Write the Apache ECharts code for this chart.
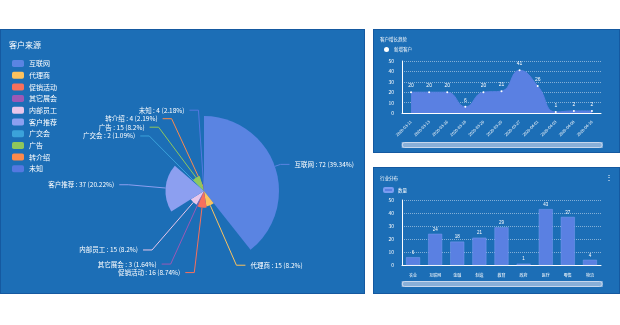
<!DOCTYPE html>
<html><head><meta charset="utf-8">
<script src="https://cdn.jsdelivr.net/npm/echarts@6/dist/echarts.min.js"></script>
<style>
html,body{margin:0;padding:0;background:#fff;width:620px;height:325px;overflow:hidden;font-family:"Noto Sans CJK SC",sans-serif;}
.panel{position:absolute;background:#1c6eb6;border:1px solid #1559a0;box-sizing:border-box;}
</style></head>
<body>
<div id="p1" class="panel" style="left:0;top:29px;width:365px;height:265px"></div>
<div id="p2" class="panel" style="left:373px;top:29px;width:247px;height:124px"></div>
<div id="p3" class="panel" style="left:373px;top:167px;width:247px;height:127px"></div>
<script>
// ---- data ----
const sourceNames = ['互联网','代理商','促销活动','其它展会','内部员工','客户推荐','广交会','广告','转介绍','未知'];
const sourceValues = [72,15,16,3,15,37,2,15,4,4];
const sourceColors = ['#5a84e2','#fbc25e','#f7705c','#9b59b6','#e8c6ea','#8c9ff0','#3ba2da','#8fc75c','#fc8a4c','#5478e0'];

const trendDates = ['2020-03-11','2020-03-13','2020-03-16','2020-03-18','2020-03-20','2020-03-25','2020-03-27','2020-04-01','2020-04-03','2020-04-08','2020-04-10'];
const trendValues = [20,20,20,6,20,21,41,26,1,2,2];

const industryNames = ['农业','互联网','金融','制造','教育','政府','医疗','零售','物流'];
const industryValues = [6,24,18,21,29,1,43,37,4];

const FONT = '"Noto Sans CJK SC", sans-serif';
const white = '#ffffff';

// ---- pie ----
const c1 = echarts.init(document.getElementById('p1'));
c1.setOption({
  animation:false,
  textStyle:{fontFamily:FONT},
  title:{text:'客户来源',left:3,top:6,textStyle:{color:white,fontSize:8,fontWeight:'normal',fontFamily:FONT}},
  legend:{orient:'vertical',left:6,top:25,itemWidth:12,itemHeight:7,itemGap:4.7,icon:'roundRect',
    textStyle:{color:white,fontSize:7,fontFamily:FONT},data:sourceNames},
  color:sourceColors,
  series:[{
    type:'pie',roseType:'radius',center:[203,161],radius:[0,75],startAngle:90,clockwise:true,
    data:sourceNames.map((n,i)=>({name:n,value:sourceValues[i]})),
    label:{color:white,fontSize:6.5,formatter:'{b} : {c} ({d}%)',fontFamily:FONT,overflow:'none',bleedMargin:2},
    labelLine:{length:6,length2:9,lineStyle:{width:1}}
  }]
});

// ---- line ----
const axisLabelStyle = {color:white,fontSize:5,fontFamily:FONT};
const splitDotted = {show:true,lineStyle:{color:'rgba(255,255,255,0.45)',type:'dotted',width:1}};
const sliderStyle = {type:'slider',left:27,right:17,height:6,showDetail:false,showDataShadow:false,brushSelect:false,
    borderColor:'rgba(205,220,240,0.9)',borderRadius:3,fillerColor:'rgba(165,192,225,0.75)',backgroundColor:'rgba(255,255,255,0.1)',
    handleSize:0,moveHandleSize:0,handleStyle:{opacity:0}};
const c2 = echarts.init(document.getElementById('p2'));
c2.setOption({
  animation:false,
  title:{text:'客户增长趋势',left:1,top:2,textStyle:{color:white,fontSize:4.5,fontWeight:'normal',fontFamily:FONT}},
  legend:{left:5,top:12,icon:'circle',itemWidth:5,itemHeight:5,itemGap:4,textStyle:{color:white,fontSize:4.5,fontFamily:FONT},data:['新增客户']},
  grid:{left:28,right:18,top:31,bottom:39},
  xAxis:{type:'category',data:trendDates,boundaryGap:true,
    axisLine:{lineStyle:{color:white}},axisTick:{show:false},
    axisLabel:{rotate:45,interval:0,fontSize:4,color:white,fontFamily:FONT}},
  yAxis:{type:'value',min:0,max:50,interval:10,axisLine:{show:true,lineStyle:{color:white}},axisTick:{show:false},
    axisLabel:axisLabelStyle,splitLine:splitDotted},
  dataZoom:[Object.assign({top:112},sliderStyle)],
  series:[{name:'新增客户',type:'line',smooth:true,data:trendValues,
    symbol:'circle',symbolSize:2,itemStyle:{color:white},
    lineStyle:{color:'#5a80e2',width:1},areaStyle:{color:'#5a80e2',opacity:1},
    label:{show:true,position:'top',color:white,fontSize:5,distance:3}}]
});

// ---- bar ----
const c3 = echarts.init(document.getElementById('p3'));
c3.setOption({
  animation:false,
  title:{text:'行业分布',left:1,top:3,textStyle:{color:white,fontSize:4.5,fontWeight:'normal',fontFamily:FONT}},
  legend:{left:4,top:14,itemWidth:9,itemHeight:4,itemGap:4,textStyle:{color:white,fontSize:4.5,fontFamily:FONT},data:['数量']},
  graphic:[{type:'text',right:6,top:6,style:{text:'⋮',fill:white,fontSize:8}}],
  grid:{left:28,right:18,top:32,bottom:28},
  xAxis:{type:'category',data:industryNames,axisLine:{lineStyle:{color:white}},axisTick:{show:false},
    axisLabel:{color:white,fontSize:4,interval:0,fontFamily:FONT}},
  yAxis:{type:'value',min:0,max:50,interval:10,axisLine:{show:true,lineStyle:{color:white}},axisTick:{show:false},
    axisLabel:axisLabelStyle,splitLine:splitDotted},
  dataZoom:[Object.assign({top:113},sliderStyle)],
  series:[{name:'数量',type:'bar',data:industryValues,barWidth:14,
    itemStyle:{color:'#5a80e2',borderColor:'#7a9cf0',borderWidth:0.5},
    label:{show:true,position:'top',color:white,fontSize:4.5,distance:2}}]
});
</script>
</body></html>
